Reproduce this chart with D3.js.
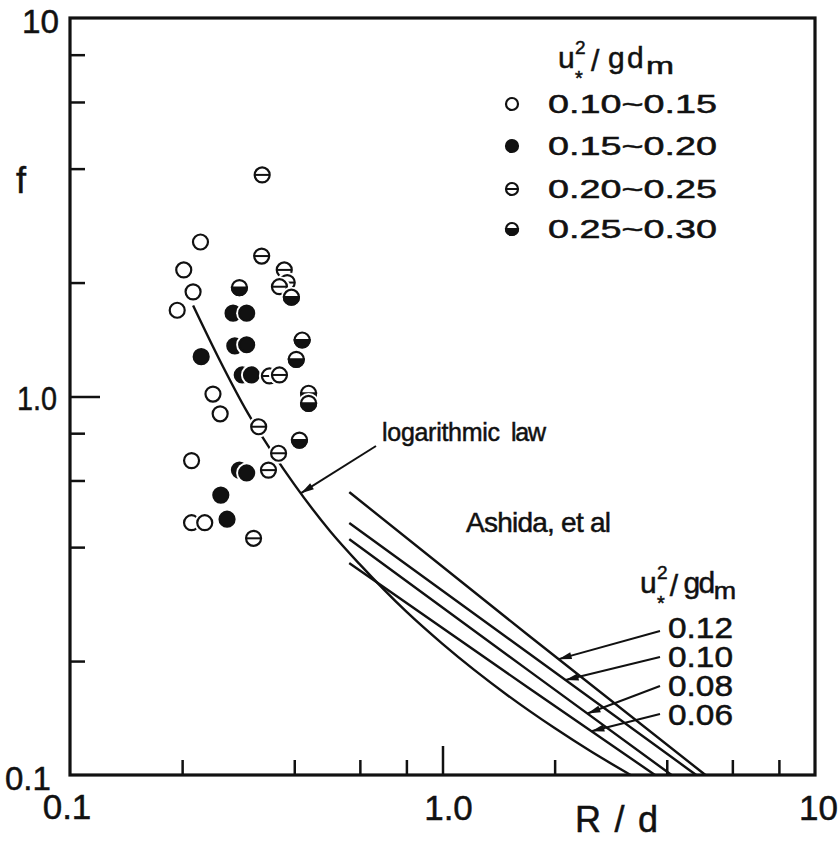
<!DOCTYPE html>
<html>
<head>
<meta charset="utf-8">
<script src="https://cdn.jsdelivr.net/npm/d3@7"></script>
<style>
body { margin: 0; background: #fff; }
text { font-family: "Liberation Sans", Arial, sans-serif; fill: #111; stroke: #111; stroke-width: 0.5; }
</style>
</head>
<body>
<script>

WIDTH = 839;
HEIGHT = 841;
MARGIN = ({top: 18, right: 22, bottom: 66, left: 70});
INK = "#111";

// measured points, [R/d, f]
var open_pts = [[0.224, 2.56], [0.202, 2.16], [0.214, 1.89], [0.194, 1.69], [0.242, 1.015],
                [0.253, 0.90], [0.212, 0.677], [0.212, 0.464], [0.230, 0.464]];
var filled_pts = [[0.225, 1.274], [0.274, 1.66], [0.298, 1.66], [0.277, 1.36], [0.298, 1.37],
                  [0.290, 1.14], [0.307, 1.14], [0.285, 0.639], [0.298, 0.628], [0.254, 0.549], [0.264, 0.474]];
var bar_pts = [[0.328, 3.85], [0.327, 2.35], [0.376, 2.16], [0.383, 2.0], [0.365, 1.95],
               [0.343, 1.133], [0.365, 1.14], [0.321, 0.832], [0.363, 0.708], [0.341, 0.639], [0.311, 0.422]];
var half_pts = [[0.285, 1.94], [0.393, 1.83], [0.420, 1.41], [0.405, 1.254], [0.437, 1.02],
                [0.437, 0.959], [0.413, 0.767]];

var legend_labels = ["0.10~0.15", "0.15~0.20", "0.20~0.25", "0.25~0.30"];
var legend_kinds = ["open", "filled", "bar", "half"];

// logarithmic law curve
var log_law = [[0.214, 1.74], [0.25, 1.27], [0.30, 0.905], [0.35, 0.71], [0.40, 0.586], [0.50, 0.44],
               [0.60, 0.36], [0.80, 0.27], [1.0, 0.222], [1.5, 0.162], [2.0, 0.133], [2.5, 0.1155], [3.2, 0.100]];

// Ashida et al curves, one per u*^2/gdm
var ashida_labels = ["0.12", "0.10", "0.08", "0.06"];
var ashida_012 = [[0.562, 0.559], [1.70, 0.234], [5.08, 0.100]];
var ashida_010 = [[0.562, 0.463], [1.70, 0.210], [4.80, 0.100]];
var ashida_008 = [[0.562, 0.420], [1.70, 0.189], [4.12, 0.100]];
var ashida_006 = [[0.562, 0.363], [1.70, 0.170], [3.72, 0.100]];
var ashida_tip_r = [2.05, 2.14, 2.45, 2.51];

var minor_ticks = [0.2, 0.4, 0.6, 0.8, 2, 4, 6, 8];

var svg = d3.select("body").append("svg")
    .attr("width", WIDTH)
    .attr("height", HEIGHT);

var x = d3.scaleLog()
    .domain([0.1, 10])
    .range([MARGIN.left, WIDTH - MARGIN.right - 2]);

var y = d3.scaleLog()
    .domain([0.1, 10])
    .range([HEIGHT - MARGIN.bottom, MARGIN.top]);

// ticks (inside) -------------------------------------------------
function tickStyle(g) {
    g.select(".domain").remove();
    g.selectAll(".tick line").attr("stroke", INK).attr("stroke-width", 2.5);
}

svg.append("g")
    .attr("transform", `translate(0,${y(0.1)})`)
    .call(d3.axisBottom(x).tickValues(minor_ticks).tickSize(-15).tickFormat(""))
    .call(tickStyle);
svg.append("g")
    .attr("transform", `translate(0,${y(0.1)})`)
    .call(d3.axisBottom(x).tickValues([1]).tickSize(-29).tickFormat(""))
    .call(tickStyle);
svg.append("g")
    .attr("transform", `translate(${x(0.1)},0)`)
    .call(d3.axisLeft(y).tickValues(minor_ticks).tickSize(-15).tickFormat(""))
    .call(tickStyle);
svg.append("g")
    .attr("transform", `translate(${x(0.1)},0)`)
    .call(d3.axisLeft(y).tickValues([1]).tickSize(-30).tickFormat(""))
    .call(tickStyle);

svg.append("rect")
    .attr("x", x(0.1))
    .attr("y", y(10))
    .attr("width", x(10) - x(0.1))
    .attr("height", y(0.1) - y(10))
    .attr("fill", "none")
    .attr("stroke", INK)
    .attr("stroke-width", 3.2);

// text helper; adj = "spacing" or "spacingAndGlyphs"
function label(txt, px, py, size, len, anchor, adj) {
    var t = svg.append("text")
        .attr("x", px)
        .attr("y", py)
        .attr("font-size", size)
        .attr("text-anchor", anchor || "start")
        .text(txt);
    if (len) t.attr("textLength", len).attr("lengthAdjust", adj || "spacing");
    return t;
}

label("0.1", x(0.1) - 3, 819, 35, null, "middle");
label("1.0", x(1) + 6, 820, 35, null, "middle");
label("10", 838, 820, 35, null, "end");
label("10", 22, 33, 34, 37, "start", "spacingAndGlyphs");
label("1.0", 17, 410, 34, 40, "start", "spacingAndGlyphs");
label("0.1", 5, 790, 33, null, "start");
label("f", 21, 193, 36, null, "middle");
label("R / d", 575, 832, 36, 83);

// curves -----------------------------------------------------------
var line = d3.line()
    .x(d => x(d[0]))
    .y(d => y(d[1]))
    .curve(d3.curveMonotoneX);

svg.append("path")
    .attr("d", line(log_law))
    .attr("fill", "none")
    .attr("stroke", INK)
    .attr("stroke-width", 2.4);

var ashida = [ashida_012, ashida_010, ashida_008, ashida_006];
svg.selectAll(".ashida")
    .data(ashida)
    .enter().append("path")
    .attr("class", "ashida")
    .attr("d", d => line(d))
    .attr("fill", "none")
    .attr("stroke", INK)
    .attr("stroke-width", 2.4);

// markers ----------------------------------------------------------
function marker(g, kind, cx, cy, r, halo) {
    if (halo) {
        g.append("circle").attr("cx", cx).attr("cy", cy).attr("r", r + 3).attr("fill", "#fff");
    }
    g.append("circle")
        .attr("cx", cx).attr("cy", cy).attr("r", r)
        .attr("fill", kind == "filled" ? INK : "#fff")
        .attr("stroke", INK)
        .attr("stroke-width", 2.2);
    if (kind == "bar") {
        g.append("line")
            .attr("x1", cx - r).attr("x2", cx + r)
            .attr("y1", cy).attr("y2", cy)
            .attr("stroke", INK).attr("stroke-width", 2);
    }
    if (kind == "half") {
        g.append("path")
            .attr("d", `M${cx - r},${cy} A${r},${r} 0 0 0 ${cx + r},${cy} Z`)
            .attr("fill", INK)
            .attr("stroke", INK)
            .attr("stroke-width", 2.2);
    }
}

var groups = [open_pts, filled_pts, bar_pts, half_pts];
var pts = svg.append("g");
groups.forEach(function(arr, i) {
    arr.forEach(function(d) {
        marker(pts, legend_kinds[i], x(d[0]), y(d[1]), 7.5, true);
    });
});

// u*^2/gdm title, k squeezes the spacing after the u
function ustarTitle(x0, y0, k) {
    var g = svg.append("g").attr("transform", `translate(${x0},${y0})`);
    var px = d => 17 + (d - 17) * k;
    g.append("text").attr("x", 0).attr("y", 0).attr("font-size", 30).text("u");
    g.append("text").attr("x", 17).attr("y", 17).attr("font-size", 20).text("*");
    g.append("text").attr("x", 17).attr("y", -14).attr("font-size", 19).text("2");
    g.append("text").attr("x", px(33)).attr("y", 3).attr("font-size", 30).text("/");
    g.append("text").attr("x", px(50)).attr("y", 0).attr("font-size", 30).text("g");
    g.append("text").attr("x", px(69)).attr("y", 0).attr("font-size", 30).text("d");
    g.append("text").attr("x", px(88)).attr("y", 6).attr("font-size", 23)
        .attr("textLength", 28 * k).attr("lengthAdjust", "spacingAndGlyphs").text("m");
}

// legend -----------------------------------------------------------
ustarTitle(558, 68, 1);
var legend_y = [104, 146, 189, 229];
legend_labels.forEach(function(txt, i) {
    marker(svg, legend_kinds[i], 512, legend_y[i], 6, false);
    label(txt, 548, legend_y[i] + 9, 26, 169, "start", "spacingAndGlyphs");
});

// annotations ------------------------------------------------------
function fAt(curve, r) {
    var lr = Math.log10(r);
    for (var i = 0; i < curve.length - 1; i++) {
        var a = curve[i], b = curve[i + 1];
        if (r >= a[0] && r <= b[0]) {
            var t = (lr - Math.log10(a[0])) / (Math.log10(b[0]) - Math.log10(a[0]));
            return Math.pow(10, Math.log10(a[1]) + t * (Math.log10(b[1]) - Math.log10(a[1])));
        }
    }
    return curve[curve.length - 1][1];
}

function arrow(x1, y1, x2, y2) {
    svg.append("line")
        .attr("x1", x1).attr("y1", y1).attr("x2", x2).attr("y2", y2)
        .attr("stroke", INK).attr("stroke-width", 2);
    var a = Math.atan2(y2 - y1, x2 - x1);
    var len = 13, w = 3.5;
    var bx = x2 - len * Math.cos(a), by = y2 - len * Math.sin(a);
    svg.append("path")
        .attr("d", `M${x2},${y2} L${bx - w * Math.sin(a)},${by + w * Math.cos(a)} L${bx + w * Math.sin(a)},${by - w * Math.cos(a)} Z`)
        .attr("fill", INK);
}

label("logarithmic", 382, 441, 25, 118);
label("law", 511, 441, 25, 35);
arrow(376, 446, x(0.417), y(fAt(log_law, 0.417)));

label("Ashida, et al", 466, 532, 28, 145);

ustarTitle(640, 593, 0.8);
var ashida_label_y = [638, 667, 696, 725];
var leader_y = [631, 657, 686, 714];
ashida_labels.forEach(function(txt, i) {
    label(txt, 668, ashida_label_y[i], 29, 65, "start", "spacingAndGlyphs");
    var r = ashida_tip_r[i];
    arrow(660, leader_y[i], x(r), y(fAt(ashida[i], r)));
});

</script>
</body>
</html>
